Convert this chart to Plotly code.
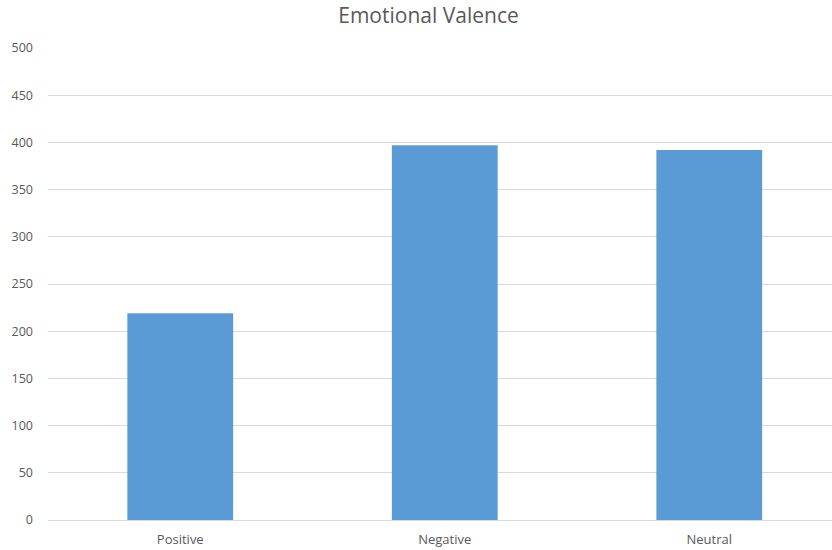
import plotly.graph_objects as go

categories = ["Positive", "Negative", "Neutral"]
values = [219, 397, 392]
y_ticks = [0, 50, 100, 150, 200, 250, 300, 350, 400, 450, 500]

fig = go.Figure()
fig.add_trace(go.Bar(x=categories, y=values, marker=dict(color="#5b9bd5", line=dict(width=0)),
                     width=0.4))

fig.update_layout(
    width=832, height=550,
    margin=dict(l=48, r=0, t=48, b=30),
    paper_bgcolor="white", plot_bgcolor="white",
    showlegend=False,
    title=dict(text="Emotional Valence", x=428.5/832, xanchor="center", xref="container",
               y=1 - 16/550, yanchor="middle", yref="container",
               font=dict(family="Open Sans, Liberation Sans, sans-serif", size=21, color="#595959")),
    font=dict(family="Open Sans, Liberation Sans, sans-serif", size=12, color="#595959"),
    bargap=0.6,
)
fig.update_xaxes(range=[-0.5, 2.464], showgrid=False, showline=True, linecolor="#d9d9d9", linewidth=1,
                 ticks="", ticklabelstandoff=7, automargin=False,
                 tickfont=dict(size=13, color="#595959"))
fig.update_yaxes(range=[0, 500], tickvals=y_ticks, showgrid=True, gridcolor="#d9d9d9", gridwidth=1,
                 zeroline=False, showline=False, ticks="", ticklabelstandoff=14, automargin=False,
                 tickfont=dict(size=12.5, color="#595959"))

fig.write_html("out.html")
